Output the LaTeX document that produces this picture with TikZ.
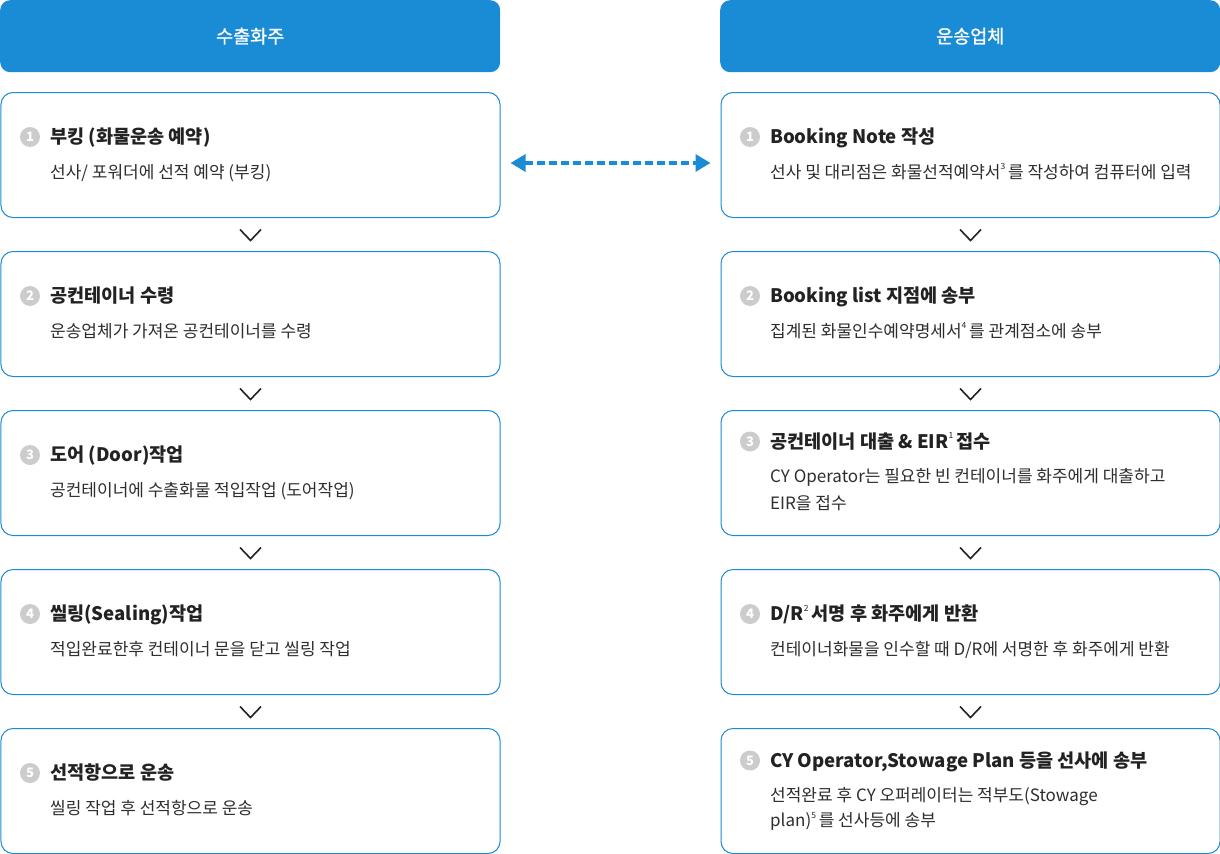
\documentclass[tikz,border=0pt]{standalone}
\usepackage{fontspec}
\setmainfont{Noto Sans CJK KR}
\newfontfamily\headfont{Noto Sans CJK KR}[FakeBold=1.2]
\usetikzlibrary{arrows.meta,calc}
\definecolor{mainblue}{HTML}{1A8CD6}
\definecolor{ttl}{HTML}{222222}
\definecolor{txt}{HTML}{2E2E2E}
\definecolor{numgray}{HTML}{CCCCCC}
\newcommand{\supn}[1]{\raisebox{0.5em}{\fontsize{8.5bp}{8.5bp}\selectfont #1}}
\begin{document}
\begin{tikzpicture}[x=1bp,y=-1bp,
  head/.style={fill=mainblue, draw=none, rounded corners=10bp, minimum width=500bp, minimum height=72bp, anchor=north west, inner sep=0, text=white, font=\headfont\fontsize{18.5bp}{20bp}\selectfont},
  stepbox/.style={draw=mainblue, line width=1bp, rounded corners=12bp, fill=white, minimum width=499bp, minimum height=125bp, anchor=north west, inner sep=0},
  ttlnode/.style={anchor=base west, inner sep=0, font=\fontsize{18.6bp}{21bp}\selectfont\bfseries, text=ttl},
  descnode/.style={anchor=base west, inner sep=0, font=\fontsize{17bp}{18bp}\selectfont, text=txt},
  numc/.style={circle, fill=numgray, minimum size=20bp, inner sep=0, text=white, font=\fontsize{13bp}{13bp}\selectfont\bfseries},
  chev/.style={draw=ttl, line width=1.6bp},
  darrow/.style={draw=mainblue, line width=3.2bp, dash pattern=on 8bp off 4bp, {Triangle[length=15bp,width=17bp]}-{Triangle[length=15bp,width=17bp]}}
]
\useasboundingbox (0,0) rectangle (1220,854);

% headers
\node[head] (H1) at (0,0) {수출화주};
\node[head] (H2) at (720,0) {운송업체};

% boxes
\foreach \i/\y in {1/92,2/251,3/410,4/569,5/728}{
  \node[stepbox] (L\i) at (0.5,\y) {};
  \node[stepbox] (R\i) at (720.5,\y) {};
}

% chevrons
\foreach \i in {1,2,3,4}{
  \draw[chev] ($(L\i.south)+(-10.5,11.5)$) -- ++(10.5,11) -- ++(10.5,-11);
  \draw[chev] ($(R\i.south)+(-10.5,11.5)$) -- ++(10.5,11) -- ++(10.5,-11);
}

% dashed arrow
\coordinate (da) at ($(L1.north east)+(10,71)$);
\coordinate (db) at ($(R1.north west)+(-10,71)$);
\draw[darrow] (da) -- (db);

% left contents
\node[numc] (nL1) at ($(L1.north west)+(29.5,45)$) {1};
\node[ttlnode] (tL1) at ($(L1.north west)+(49.5,51.5)$) {부킹 (화물운송 예약)};
\node[descnode] (dL1) at ($(L1.north west)+(49.5,86)$) {선사/ 포워더에 선적 예약 (부킹)};

\node[numc] (nL2) at ($(L2.north west)+(29.5,45)$) {2};
\node[ttlnode] (tL2) at ($(L2.north west)+(49.5,51.5)$) {공컨테이너 수령};
\node[descnode] (dL2) at ($(L2.north west)+(49.5,86)$) {운송업체가 가져온 공컨테이너를 수령};

\node[numc] (nL3) at ($(L3.north west)+(29.5,45)$) {3};
\node[ttlnode] (tL3) at ($(L3.north west)+(49.5,51.5)$) {도어 (Door)작업};
\node[descnode] (dL3) at ($(L3.north west)+(49.5,86)$) {공컨테이너에 수출화물 적입작업 (도어작업)};

\node[numc] (nL4) at ($(L4.north west)+(29.5,45)$) {4};
\node[ttlnode] (tL4) at ($(L4.north west)+(49.5,51.5)$) {씰링(Sealing)작업};
\node[descnode] (dL4) at ($(L4.north west)+(49.5,86)$) {적입완료한후 컨테이너 문을 닫고 씰링 작업};

\node[numc] (nL5) at ($(L5.north west)+(29.5,45)$) {5};
\node[ttlnode] (tL5) at ($(L5.north west)+(49.5,51.5)$) {선적항으로 운송};
\node[descnode] (dL5) at ($(L5.north west)+(49.5,86)$) {씰링 작업 후 선적항으로 운송};

% right contents
\node[numc] (nR1) at ($(R1.north west)+(29.5,45)$) {1};
\node[ttlnode] (tR1) at ($(R1.north west)+(49.5,51.5)$) {Booking Note 작성};
\node[descnode] (dR1) at ($(R1.north west)+(49.5,86)$) {선사 및 대리점은 화물선적예약서\supn{3}\,를 작성하여 컴퓨터에 입력};

\node[numc] (nR2) at ($(R2.north west)+(29.5,45)$) {2};
\node[ttlnode] (tR2) at ($(R2.north west)+(49.5,51.5)$) {Booking list 지점에 송부};
\node[descnode] (dR2) at ($(R2.north west)+(49.5,86)$) {집계된 화물인수예약명세서\supn{4}\,를 관계점소에 송부};

\node[numc] (nR3) at ($(R3.north west)+(29.5,31.5)$) {3};
\node[ttlnode] (tR3) at ($(R3.north west)+(49.5,38)$) {공컨테이너 대출 \& EIR\supn{\mdseries 1}\,접수};
\node[descnode] (dR3a) at ($(R3.north west)+(49.5,72.5)$) {CY Operator는 필요한 빈 컨테이너를 화주에게 대출하고};
\node[descnode] (dR3b) at ($(R3.north west)+(49.5,99.5)$) {EIR을 접수};

\node[numc] (nR4) at ($(R4.north west)+(29.5,45)$) {4};
\node[ttlnode] (tR4) at ($(R4.north west)+(49.5,51.5)$) {D/R\supn{\mdseries 2}\,서명 후 화주에게 반환};
\node[descnode] (dR4) at ($(R4.north west)+(49.5,86)$) {컨테이너화물을 인수할 때 D/R에 서명한 후 화주에게 반환};

\node[numc] (nR5) at ($(R5.north west)+(29.5,32.5)$) {5};
\node[ttlnode] (tR5) at ($(R5.north west)+(49.5,39)$) {CY Operator,Stowage Plan 등을 선사에 송부};
\node[descnode] (dR5a) at ($(R5.north west)+(49.5,73.5)$) {선적완료 후 CY 오퍼레이터는 적부도(Stowage};
\node[descnode] (dR5b) at ($(R5.north west)+(49.5,98.5)$) {plan)\supn{5}\,를 선사등에 송부};
\end{tikzpicture}
\end{document}
